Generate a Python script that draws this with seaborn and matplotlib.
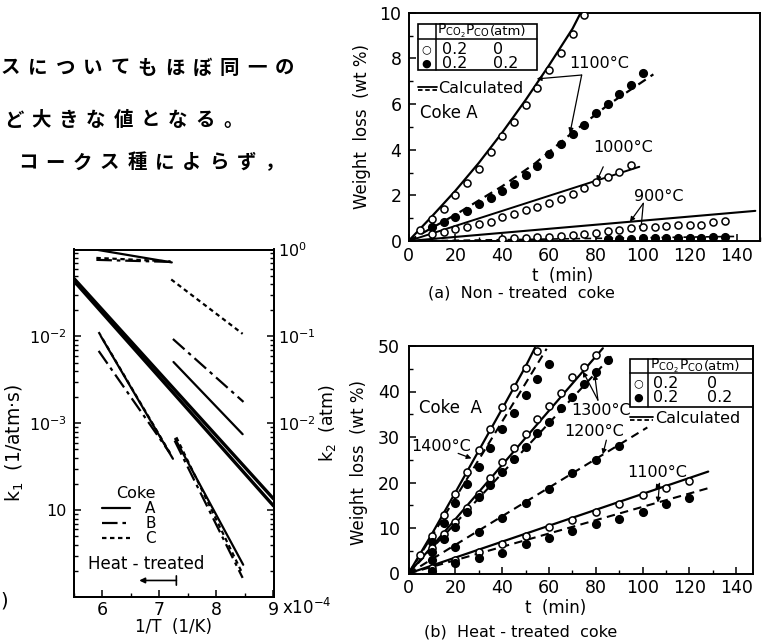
import matplotlib
matplotlib.use("Agg")
import matplotlib.pyplot as plt
import seaborn as sns
import numpy as np
import pandas as pd
from matplotlib.lines import Line2D
from matplotlib.patches import Rectangle
from matplotlib.ticker import FixedLocator, MultipleLocator, LogLocator, NullFormatter, FixedFormatter

# ---------------- DATA ----------------
# (a) Non-treated coke, Coke A : weight loss (wt%) vs t (min)
a_t_1100_open = [5, 10, 15, 20, 25, 30, 35, 40, 45, 50, 55, 60, 65, 70, 75]
a_w_1100_open = [0.5, 0.95, 1.42, 2.03, 2.55, 3.15, 3.88, 4.62, 5.23, 5.96, 6.69, 7.47, 8.24, 9.06, 9.88]
a_t_1100_fill = [10, 15, 20, 25, 30, 35, 40, 45, 50, 55, 60, 65, 70, 75, 80, 85, 90, 95, 100]
a_w_1100_fill = [0.62, 0.85, 1.06, 1.3, 1.6, 1.88, 2.2, 2.5, 2.88, 3.28, 3.8, 4.25, 4.68, 5.06, 5.6, 6.0, 6.45, 6.85, 7.35]
a_t_1000_open = [10, 15, 20, 25, 30, 35, 40, 45, 50, 55, 60, 65, 70, 75, 80, 85, 90, 95]
a_w_1000_open = [0.3, 0.41, 0.51, 0.63, 0.74, 0.85, 1.06, 1.18, 1.36, 1.5, 1.65, 1.85, 2.05, 2.31, 2.57, 2.79, 3.04, 3.33]
a_t_900_open = [40, 45, 50, 55, 60, 65, 70, 75, 80, 85, 90, 95, 100, 105, 110, 115, 120, 125, 130, 135]
a_w_900_open = [0.08, 0.12, 0.15, 0.16, 0.19, 0.22, 0.26, 0.29, 0.36, 0.43, 0.5, 0.56, 0.6, 0.63, 0.66, 0.68, 0.69, 0.72, 0.83, 0.86]
a_t_900_fill = [85, 90, 95, 100, 105, 110, 115, 120, 125, 130, 135]
a_w_900_fill = [0.07, 0.07, 0.08, 0.12, 0.12, 0.12, 0.15, 0.12, 0.15, 0.19, 0.19]
# calculated curves (a)
a_tc_1100_open = [0, 10, 20, 30, 40, 50, 60, 70, 73.5]
a_wc_1100_open = [0, 1.08, 2.2, 3.42, 4.75, 6.18, 7.7, 9.3, 10.0]
a_tc_1100_fill = [0, 20, 40, 54, 70, 85, 104.5]
a_wc_1100_fill = [0, 1.15, 2.4, 3.4, 4.75, 5.95, 7.3]
a_tc_1000_open = [0, 98.5]
a_wc_1000_open = [0, 3.25]
a_tc_900_open = [0, 148]
a_wc_900_open = [0, 1.32]
a_tc_900_fill = [0, 140]
a_wc_900_fill = [0, 0.2]

# (b) Heat-treated coke, Coke A
b_t_1400_open = [5, 10, 15, 20, 25, 30, 35, 40, 45, 50, 55]
b_w_1400_open = [4.0, 8.2, 12.8, 17.5, 22.4, 27.2, 31.8, 36.5, 40.9, 45.1, 49.0]
b_t_1400_fill = [10, 15, 20, 25, 30, 35, 40, 45, 50, 55, 60]
b_w_1400_fill = [7.0, 11.0, 15.4, 19.6, 23.3, 27.5, 31.8, 35.2, 39.2, 42.8, 46.1]
b_t_1300_open = [10, 15, 20, 25, 30, 35, 40, 45, 50, 55, 60, 65, 70, 75, 80]
b_w_1300_open = [5.5, 8.6, 11.4, 14.5, 17.4, 21.0, 24.5, 27.5, 30.7, 33.9, 36.8, 39.6, 43.1, 45.3, 48.1]
b_t_1300_fill = [10, 15, 20, 25, 30, 35, 40, 45, 50, 55, 60, 65, 70, 75, 80, 85]
b_w_1300_fill = [4.8, 7.5, 10.3, 13.6, 16.9, 19.5, 22.4, 25.2, 27.8, 30.8, 33.4, 36.3, 38.8, 41.6, 44.2, 47.0]
b_t_1200_fill = [10, 20, 30, 40, 50, 60, 70, 80, 90]
b_w_1200_fill = [3.0, 5.8, 9.1, 12.3, 15.6, 18.5, 22.1, 25.0, 28.1]
b_t_1100_open = [10, 20, 30, 40, 50, 60, 70, 80, 90, 100, 110, 120]
b_w_1100_open = [1.2, 2.9, 4.7, 6.4, 8.2, 10.3, 11.7, 13.5, 15.3, 17.3, 18.9, 20.3]
b_t_1100_fill = [10, 20, 30, 40, 50, 60, 70, 80, 90, 100, 110, 120]
b_w_1100_fill = [0.6, 2.2, 3.4, 4.6, 6.4, 7.9, 9.4, 10.8, 11.9, 13.6, 15.2, 16.5]
# calculated curves (b)
b_tc_1400_open = [0, 10, 20, 30, 40, 50, 54]
b_wc_1400_open = [0, 8.7, 17.8, 27.0, 36.2, 45.5, 49.6]
b_tc_1400_fill = [0, 10, 20, 30, 40, 50, 59]
b_wc_1400_fill = [0, 8.2, 16.6, 25.0, 33.4, 41.8, 49.4]
b_tc_1300_open = [0, 83]
b_wc_1300_open = [0, 49.5]
b_tc_1300_fill = [0, 88]
b_wc_1300_fill = [0, 48.5]
b_tc_1200_fill = [0, 102]
b_wc_1200_fill = [0, 32.1]
b_tc_1100_open = [0, 128]
b_wc_1100_open = [0, 22.4]
b_tc_1100_fill = [0, 129]
b_wc_1100_fill = [0, 18.9]

# (c) Arrhenius plot : 1/T (x1e-4 1/K)
cokes = ["A", "B", "C"]
# k1 (1/atm s), heat-treated
k1_ht_x = {"A": [5.98, 7.24], "B": [5.94, 7.18], "C": [5.94, 7.21]}
k1_ht_k = {"A": [1.0e-2, 3.9e-4], "B": [6.8e-3, 4.6e-4], "C": [1.12e-2, 4.3e-4]}
# k1 (1/atm s), non-treated
k1_nt_x = {"A": [7.28, 8.47], "B": [7.27, 8.46], "C": [7.30, 8.45]}
k1_nt_k = {"A": [6.6e-4, 2.35e-5], "B": [6.3e-4, 1.66e-5], "C": [6.9e-4, 1.9e-5]}
# broad line over the whole range (two nearly coincident lines)
k1_wide_x = [5.5, 9.0]
k1_wide_upper = [4.7e-2, 1.35e-4]
k1_wide_lower = [4.4e-2, 1.12e-4]
# k2 (atm), heat-treated
k2_ht_x = {"A": [5.88, 7.22], "B": [5.90, 7.20], "C": [5.90, 7.20]}
k2_ht_k = {"A": [1.0, 0.71], "B": [0.76, 0.72], "C": [0.80, 0.73]}
# k2 (atm), non-treated
k2_nt_x = {"A": [7.25, 8.46], "B": [7.24, 8.475], "C": [7.21, 8.46]}
k2_nt_k = {"A": [0.0507, 0.00748], "B": [0.0933, 0.0176], "C": [0.452, 0.107]}

a_xticks = [0, 20, 40, 60, 80, 100, 120, 140]
a_yticks = [0, 2, 4, 6, 8, 10]
b_yticks = [0, 10, 20, 30, 40, 50]
c_xticks = [6, 7, 8, 9]
c_k1_ticks = [1e-4, 1e-3, 1e-2]
c_k1_labels = ["10", "10$^{-3}$", "10$^{-2}$"]
c_k2_ticks = [1e-3, 1e-2, 1e-1, 1e0]
c_k2_labels = ["", "10$^{-2}$", "10$^{-1}$", "10$^{0}$"]

jp_lines = ["スについてもほぼ同一の", "ど大きな値となる。", "コークス種によらず，"]

# ---------------- STYLE ----------------
sns.set_theme(style="ticks")
plt.rcParams['font.family'] = ['DejaVu Sans', 'Noto Sans CJK JP']
plt.rcParams.update({
    'axes.linewidth': 1.4, 'axes.edgecolor': 'black', 'text.color': 'black',
    'axes.labelcolor': 'black', 'xtick.color': 'black', 'ytick.color': 'black',
    'xtick.direction': 'in', 'ytick.direction': 'in',
    'xtick.major.size': 5, 'ytick.major.size': 5,
    'xtick.minor.size': 3, 'ytick.minor.size': 3,
    'xtick.major.width': 1.1, 'ytick.major.width': 1.1,
    'xtick.minor.width': 1.0, 'ytick.minor.width': 1.0,
    'mathtext.default': 'regular', 'font.size': 12,
})

SOLID = '-'
DASH = (0, (4.0, 2.6))
STY = {"A": '-', "B": (0, (7, 2.2, 1.6, 2.2)), "C": (0, (2.0, 1.6))}

W, H = 764, 644
fig = plt.figure(figsize=(W / 100, H / 100), dpi=100)


def box(l, t, r, b):
    return [l / W, 1 - b / H, (r - l) / W, (b - t) / H]


axc = fig.add_axes(box(73.5, 249.5, 273.5, 597))
axa = fig.add_axes(box(408.5, 12.7, 760, 241))
axb = fig.add_axes(box(408.5, 346, 752.7, 573.5))


def line(ax, x, y, ls, lw=1.4):
    sns.lineplot(x=x, y=y, ax=ax, color='black', linewidth=lw, linestyle=ls,
                 sort=False, estimator=None, legend=False)


def pts(ax, x, y, filled):
    sns.scatterplot(x=x, y=y, ax=ax, marker='o', s=30 if filled else 26,
                    color='black' if filled else 'white', edgecolor='black',
                    linewidth=1.1, zorder=4, legend=False)


def arrow(ax, start, end):
    ax.annotate('', xy=end, xytext=start,
                arrowprops=dict(arrowstyle='-|>', color='black', lw=0.9,
                                shrinkA=0, shrinkB=0, mutation_scale=7))

# ---------------- (a) ----------------
ax = axa
line(ax, a_tc_1100_open, a_wc_1100_open, SOLID, 1.6)
line(ax, a_tc_1100_fill, a_wc_1100_fill, DASH, 1.6)
line(ax, a_tc_1000_open, a_wc_1000_open, SOLID, 1.4)
line(ax, a_tc_900_open, a_wc_900_open, SOLID, 1.5)
line(ax, a_tc_900_fill, a_wc_900_fill, DASH, 1.2)
pts(ax, a_t_1100_open, a_w_1100_open, False)
pts(ax, a_t_1100_fill, a_w_1100_fill, True)
pts(ax, a_t_1000_open, a_w_1000_open, False)
pts(ax, a_t_900_open, a_w_900_open, False)
pts(ax, a_t_900_fill, a_w_900_fill, True)
ax.set_xlim(0, 150)
ax.set_ylim(0, 10)
ax.xaxis.set_major_locator(FixedLocator(a_xticks))
ax.xaxis.set_minor_locator(MultipleLocator(10))
ax.yaxis.set_major_locator(FixedLocator(a_yticks))
ax.yaxis.set_minor_locator(MultipleLocator(1))
ax.tick_params(axis='both', which='major', labelsize=12.5)
ax.tick_params(axis='x', pad=4)
ax.tick_params(axis='y', pad=5)
ax.set_xlabel('t  (min)', fontsize=12)
ax.xaxis.set_label_coords(0.438, -0.115)
ax.set_ylabel('Weight  loss  (wt %)', fontsize=12)
ax.yaxis.set_label_coords(-0.106, 0.5)
ax.text(81.5, 7.78, '1100°C', fontsize=11.5, ha='center', va='center')
ax.text(91.6, 4.1, '1000°C', fontsize=11.5, ha='center', va='center')
ax.text(106.6, 1.94, '900°C', fontsize=11.5, ha='center', va='center')
arrow(ax, (73.9, 7.27), (54.7, 7.1))
arrow(ax, (73.9, 7.27), (68.9, 4.72))
arrow(ax, (83.1, 3.25), (80.3, 2.62))
arrow(ax, (100.2, 1.65), (94.5, 0.84))
arrow(ax, (100.2, 1.65), (99.1, 0.42))
# legend table (a)
T = ax.transAxes
ax.add_patch(Rectangle((0.028, 0.749), 0.337, 0.20, transform=T, fill=False, lw=1.2, color='black'))
ax.add_line(Line2D([0.077, 0.077], [0.749, 0.949], transform=T, color='black', lw=1.1))
ax.add_line(Line2D([0.028, 0.365], [0.883, 0.883], transform=T, color='black', lw=1.1))
ax.text(0.080, 0.921, 'P$_{CO_2}$', transform=T, fontsize=10, ha='left', va='center')
ax.text(0.162, 0.921, 'P$_{CO}$', transform=T, fontsize=10, ha='left', va='center')
ax.text(0.232, 0.918, '(atm)', transform=T, fontsize=9.5, ha='left', va='center')
ax.text(0.050, 0.840, '○', transform=T, fontsize=8, ha='center', va='center')
ax.text(0.050, 0.776, '●', transform=T, fontsize=8, ha='center', va='center')
ax.text(0.096, 0.840, '0.2', transform=T, fontsize=11.5, ha='left', va='center')
ax.text(0.241, 0.840, '0', transform=T, fontsize=11.5, ha='left', va='center')
ax.text(0.096, 0.776, '0.2', transform=T, fontsize=11.5, ha='left', va='center')
ax.text(0.241, 0.776, '0.2', transform=T, fontsize=11.5, ha='left', va='center')
ax.add_line(Line2D([0.027, 0.081], [0.676, 0.676], transform=T, color='black', lw=1.3))
ax.add_line(Line2D([0.027, 0.081], [0.662, 0.662], transform=T, color='black', lw=1.3, ls=(0, (2.5, 1.5))))
ax.text(0.084, 0.669, 'Calculated', transform=T, fontsize=11.5, ha='left', va='center')
ax.text(0.033, 0.559, 'Coke A', transform=T, fontsize=12, ha='left', va='center')

# ---------------- (b) ----------------
ax = axb
line(ax, b_tc_1400_open, b_wc_1400_open, SOLID, 1.6)
line(ax, b_tc_1400_fill, b_wc_1400_fill, DASH, 1.5)
line(ax, b_tc_1300_open, b_wc_1300_open, SOLID, 1.6)
line(ax, b_tc_1300_fill, b_wc_1300_fill, DASH, 1.5)
line(ax, b_tc_1200_fill, b_wc_1200_fill, DASH, 1.5)
line(ax, b_tc_1100_open, b_wc_1100_open, SOLID, 1.6)
line(ax, b_tc_1100_fill, b_wc_1100_fill, DASH, 1.5)
pts(ax, b_t_1400_open, b_w_1400_open, False)
pts(ax, b_t_1400_fill, b_w_1400_fill, True)
pts(ax, b_t_1300_open, b_w_1300_open, False)
pts(ax, b_t_1300_fill, b_w_1300_fill, True)
pts(ax, b_t_1200_fill, b_w_1200_fill, True)
pts(ax, b_t_1100_open, b_w_1100_open, False)
pts(ax, b_t_1100_fill, b_w_1100_fill, True)
ax.set_xlim(0, 147)
ax.set_ylim(0, 50)
ax.xaxis.set_major_locator(FixedLocator(a_xticks))
ax.xaxis.set_minor_locator(MultipleLocator(10))
ax.yaxis.set_major_locator(FixedLocator(b_yticks))
ax.yaxis.set_minor_locator(MultipleLocator(5))
ax.tick_params(axis='both', which='major', labelsize=12.5)
ax.tick_params(axis='x', pad=4)
ax.tick_params(axis='y', pad=6)
ax.set_xlabel('t  (min)', fontsize=12)
ax.xaxis.set_label_coords(0.428, -0.11)
ax.set_ylabel('Weight  loss  (wt %)', fontsize=12)
ax.yaxis.set_label_coords(-0.118, 0.49)
ax.text(4.6, 36.3, 'Coke  A', fontsize=12, ha='left', va='center')
ax.text(1.2, 28.0, '1400°C', fontsize=11.5, ha='left', va='center')
ax.text(82.4, 35.9, '1300°C', fontsize=11.5, ha='center', va='center')
ax.text(79.1, 31.2, '1200°C', fontsize=11.5, ha='center', va='center')
ax.text(106.1, 22.2, '1100°C', fontsize=11.5, ha='center', va='center')
arrow(ax, (21.2, 26.4), (26.9, 25.3))
arrow(ax, (80.9, 38.1), (74.5, 44.4))
arrow(ax, (80.9, 38.1), (79.5, 43.8))
arrow(ax, (84.5, 29.3), (83.0, 26.2))
arrow(ax, (107.2, 19.8), (105.5, 18.4))
arrow(ax, (107.2, 19.8), (106.5, 15.6))
T = ax.transAxes
ax.add_patch(Rectangle((0.644, 0.731), 0.356, 0.211, transform=T, fill=False, lw=1.2, color='black'))
ax.add_line(Line2D([0.697, 0.697], [0.731, 0.942], transform=T, color='black', lw=1.1))
ax.add_line(Line2D([0.644, 1.0], [0.881, 0.881], transform=T, color='black', lw=1.1))
ax.text(0.701, 0.914, 'P$_{CO_2}$', transform=T, fontsize=10, ha='left', va='center')
ax.text(0.785, 0.914, 'P$_{CO}$', transform=T, fontsize=10, ha='left', va='center')
ax.text(0.857, 0.911, '(atm)', transform=T, fontsize=9.5, ha='left', va='center')
ax.text(0.668, 0.834, '○', transform=T, fontsize=8, ha='center', va='center')
ax.text(0.668, 0.772, '●', transform=T, fontsize=8, ha='center', va='center')
ax.text(0.711, 0.834, '0.2', transform=T, fontsize=11.5, ha='left', va='center')
ax.text(0.867, 0.834, '0', transform=T, fontsize=11.5, ha='left', va='center')
ax.text(0.711, 0.772, '0.2', transform=T, fontsize=11.5, ha='left', va='center')
ax.text(0.867, 0.772, '0.2', transform=T, fontsize=11.5, ha='left', va='center')
ax.add_line(Line2D([0.644, 0.711], [0.687, 0.687], transform=T, color='black', lw=1.3))
ax.add_line(Line2D([0.644, 0.711], [0.673, 0.673], transform=T, color='black', lw=1.3, ls=(0, (2.5, 1.5))))
ax.text(0.717, 0.680, 'Calculated', transform=T, fontsize=11.5, ha='left', va='center')

# ---------------- (c) ----------------
ax = axc
ax.set_yscale('log')
ax2 = ax.twinx()
ax2.set_yscale('log')
line(ax, k1_wide_x, k1_wide_upper, SOLID, 2.4)
line(ax, k1_wide_x, k1_wide_lower, SOLID, 2.4)
for c in cokes:
    line(ax, k1_ht_x[c], k1_ht_k[c], STY[c], 1.6)
    line(ax, k1_nt_x[c], k1_nt_k[c], STY[c], 1.6)
    line(ax2, k2_ht_x[c], k2_ht_k[c], STY[c], 1.6)
    line(ax2, k2_nt_x[c], k2_nt_k[c], STY[c], 1.6)
ax.set_xlim(5.5, 9.0)
ax.set_ylim(1e-5, 1e-1)
ax2.set_ylim(1e-4, 1e0)
ax.xaxis.set_major_locator(FixedLocator(c_xticks))
ax.xaxis.set_minor_locator(MultipleLocator(0.5))
ax.yaxis.set_major_locator(FixedLocator(c_k1_ticks))
ax.yaxis.set_major_formatter(FixedFormatter(c_k1_labels))
ax.yaxis.set_minor_locator(LogLocator(base=10, subs=np.arange(2, 10)))
ax.yaxis.set_minor_formatter(NullFormatter())
ax2.yaxis.set_major_locator(FixedLocator(c_k2_ticks))
ax2.yaxis.set_major_formatter(FixedFormatter(c_k2_labels))
ax2.yaxis.set_minor_locator(LogLocator(base=10, subs=np.arange(2, 10)))
ax2.yaxis.set_minor_formatter(NullFormatter())
ax.tick_params(axis='x', which='major', labelsize=12.5, pad=3)
ax.tick_params(axis='y', which='major', labelsize=11.5, pad=5)
ax2.tick_params(axis='y', which='major', labelsize=11.5, pad=3.5)
ax.set_xlabel('1/T  (1/K)', fontsize=12)
ax.xaxis.set_label_coords(0.5, -0.06)
ax.set_ylabel('k$_1$  (1/atm·s)', fontsize=13.5)
ax.yaxis.set_label_coords(-0.235, 0.443)
ax2.set_ylabel('k$_2$  (atm)', fontsize=12.5)
ax2.yaxis.set_label_coords(1.215, 0.5)
handles = [Line2D([], [], color='black', lw=1.6, ls=STY[c]) for c in cokes]
leg = ax.legend(handles, cokes, title='Coke', loc='upper left', bbox_to_anchor=(0.14, 0.318),
                frameon=False, fontsize=11, title_fontsize=11.5, handlelength=1.85,
                handletextpad=1.0, labelspacing=0.0, borderaxespad=0, borderpad=0,
                alignment='right')
ax.text(0.365, 0.095, 'Heat - treated', transform=ax.transAxes, fontsize=12, ha='center', va='center')
ax.annotate('', xy=(6.65, 1.55e-5), xytext=(7.3, 1.55e-5),
            arrowprops=dict(arrowstyle='-|>', color='black', lw=1.2, shrinkA=0, shrinkB=0,
                            mutation_scale=8))
ax.annotate('', xy=(7.3, 1.75e-5), xytext=(7.3, 1.37e-5),
            arrowprops=dict(arrowstyle='-', color='black', lw=1.2, shrinkA=0, shrinkB=0))
fig.text(282 / W, 1 - 608 / H, 'x10$^{-4}$', fontsize=12, ha='left', va='center')
fig.text(0.0, 1 - 601 / H, ')', fontsize=14, ha='left', va='center')

# titles
fig.text(521 / W, 1 - 293 / H, '(a)  Non - treated  coke', fontsize=11.5, ha='center', va='center')
fig.text(521 / W, 1 - 632 / H, '(b)  Heat - treated  coke', fontsize=11.5, ha='center', va='center')

# Japanese body text fragments
jp_x0 = [10.5, 13.5, 27.5]
jp_y = [68, 120, 163]
for s, x0, y in zip(jp_lines, jp_x0, jp_y):
    for i, ch in enumerate(s):
        fig.text((x0 + 27.4 * i) / W, 1 - y / H, ch, fontsize=14, family='Noto Sans CJK JP',
                 weight='bold', ha='center', va='center')

fig.savefig('out.png', dpi=100)
